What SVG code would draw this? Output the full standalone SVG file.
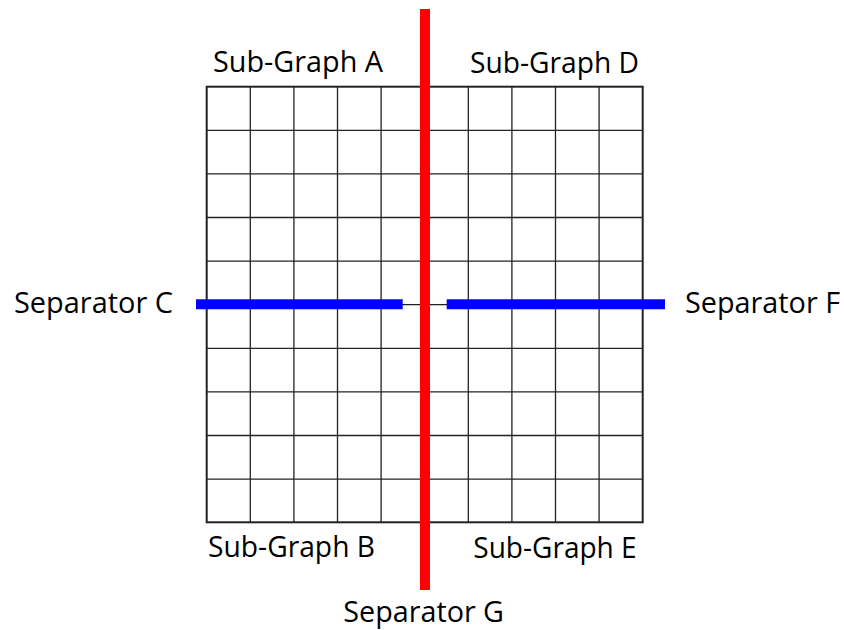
<svg xmlns="http://www.w3.org/2000/svg" width="844" height="630" viewBox="0 0 844 630">
<style>
.grid line{stroke:#222;stroke-width:1.3}
.border{fill:none;stroke:#222;stroke-width:2}
.lbl{font-family:"Open Sans","Noto Sans","Liberation Sans",sans-serif;font-size:29px;fill:#000}
.sepH{stroke:#0000ff;stroke-width:10}
.sepV{stroke:#ff0000;stroke-width:10}
</style>
<rect width="844" height="630" fill="#fff"/>
<g id="grid" class="grid">
<line x1="250.3" y1="86.7" x2="250.3" y2="522.3"/>
<line x1="293.9" y1="86.7" x2="293.9" y2="522.3"/>
<line x1="337.5" y1="86.7" x2="337.5" y2="522.3"/>
<line x1="381.1" y1="86.7" x2="381.1" y2="522.3"/>
<line x1="424.7" y1="86.7" x2="424.7" y2="522.3"/>
<line x1="468.3" y1="86.7" x2="468.3" y2="522.3"/>
<line x1="511.9" y1="86.7" x2="511.9" y2="522.3"/>
<line x1="555.5" y1="86.7" x2="555.5" y2="522.3"/>
<line x1="599.1" y1="86.7" x2="599.1" y2="522.3"/>
<line x1="206.7" y1="130.3" x2="642.7" y2="130.3"/>
<line x1="206.7" y1="173.9" x2="642.7" y2="173.9"/>
<line x1="206.7" y1="217.5" x2="642.7" y2="217.5"/>
<line x1="206.7" y1="261.1" x2="642.7" y2="261.1"/>
<line x1="206.7" y1="304.7" x2="642.7" y2="304.7"/>
<line x1="206.7" y1="348.3" x2="642.7" y2="348.3"/>
<line x1="206.7" y1="391.9" x2="642.7" y2="391.9"/>
<line x1="206.7" y1="435.5" x2="642.7" y2="435.5"/>
<line x1="206.7" y1="479.1" x2="642.7" y2="479.1"/>
<rect class="border" x="206.7" y="86.7" width="436" height="435.6"/>
</g>
<g id="separators">
<line id="sepC" class="sepH" x1="196" y1="304.3" x2="402.7" y2="304.3"/>
<line id="sepF" class="sepH" x1="446.7" y1="304.3" x2="665" y2="304.3"/>
<line id="sepG" class="sepV" x1="425" y1="9" x2="425" y2="590"/>
</g>
<g id="labels">
<text id="lblA" class="lbl" x="213" y="72" textLength="170" lengthAdjust="spacingAndGlyphs">Sub-Graph A</text>
<text id="lblD" class="lbl" x="470" y="73" textLength="169" lengthAdjust="spacingAndGlyphs">Sub-Graph D</text>
<text id="lblC" class="lbl" x="14" y="313.3" textLength="159" lengthAdjust="spacingAndGlyphs">Separator C</text>
<text id="lblF" class="lbl" x="685" y="313.3" textLength="155" lengthAdjust="spacingAndGlyphs">Separator F</text>
<text id="lblB" class="lbl" x="208" y="557" textLength="167" lengthAdjust="spacingAndGlyphs">Sub-Graph B</text>
<text id="lblE" class="lbl" x="473.3" y="558.3" textLength="163.4" lengthAdjust="spacingAndGlyphs">Sub-Graph E</text>
<text id="lblG" class="lbl" x="343.3" y="621.7" textLength="160.7" lengthAdjust="spacingAndGlyphs">Separator G</text>
</g>
</svg>
